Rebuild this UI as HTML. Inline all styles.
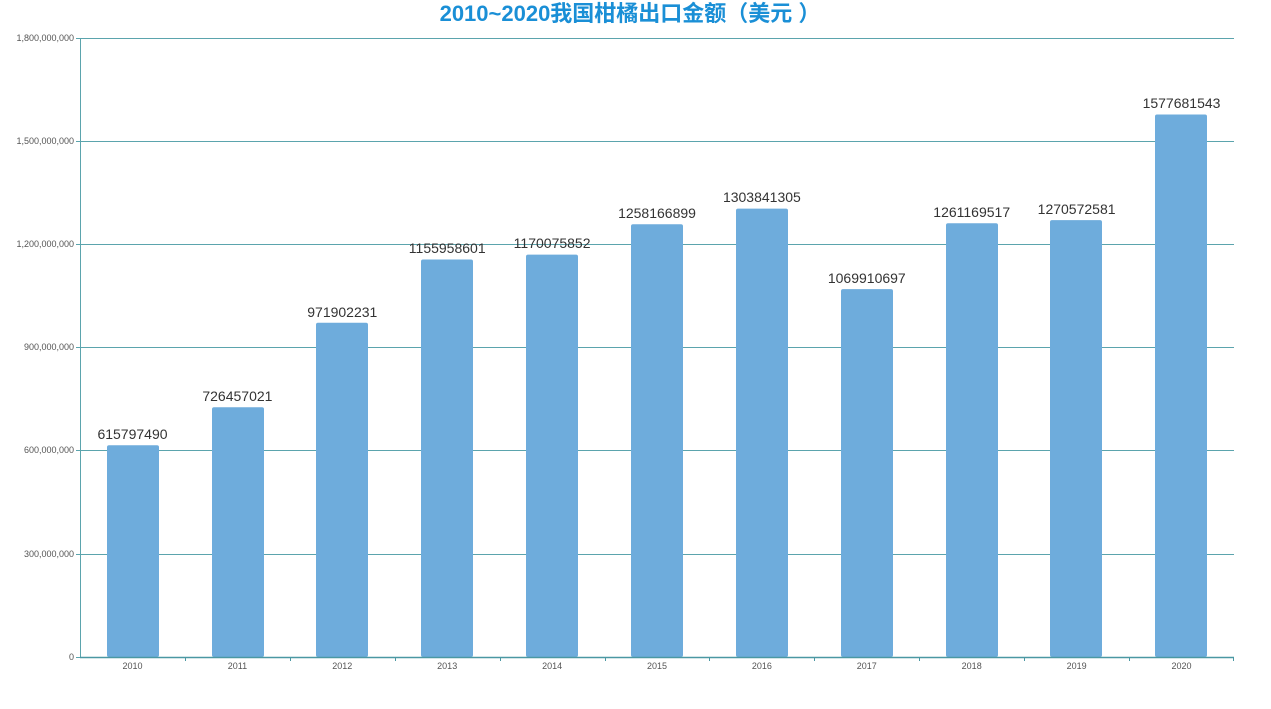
<!DOCTYPE html>
<html><head><meta charset="utf-8"><style>
body{margin:0;background:#fff;}
svg{display:block;font-family:"Liberation Sans","Noto Sans CJK SC",sans-serif;}
</style></head><body>
<svg width="1271" height="709" viewBox="0 0 1271 709">
<text x="630" y="21" text-anchor="middle" font-size="22" font-weight="bold" fill="#1a8fd6">2010~2020我国柑橘出口金额（美元 ）</text>
<g stroke="#5ba4ad" stroke-width="1">
<line x1="80" y1="38.5" x2="1234" y2="38.5"/>
<line x1="80" y1="141.5" x2="1234" y2="141.5"/>
<line x1="80" y1="244.5" x2="1234" y2="244.5"/>
<line x1="80" y1="347.5" x2="1234" y2="347.5"/>
<line x1="80" y1="450.5" x2="1234" y2="450.5"/>
<line x1="80" y1="554.5" x2="1234" y2="554.5"/>
<line x1="80.5" y1="38" x2="80.5" y2="657"/>
<line x1="76" y1="38.5" x2="80" y2="38.5"/><line x1="76" y1="141.5" x2="80" y2="141.5"/><line x1="76" y1="244.5" x2="80" y2="244.5"/><line x1="76" y1="347.5" x2="80" y2="347.5"/><line x1="76" y1="450.5" x2="80" y2="450.5"/><line x1="76" y1="554.5" x2="80" y2="554.5"/><line x1="76" y1="657.5" x2="80" y2="657.5"/>
</g>
<g font-size="9" fill="#555" text-anchor="end">
<text x="74" y="41">1,800,000,000</text><text x="74" y="144">1,500,000,000</text><text x="74" y="247">1,200,000,000</text><text x="74" y="350">900,000,000</text><text x="74" y="453">600,000,000</text><text x="74" y="557">300,000,000</text><text x="74" y="660">0</text>
</g>
<g fill="#6eacdc">
<rect x="107" y="445.2" width="52" height="211.8" rx="2"/>
<rect x="212" y="407.2" width="52" height="249.8" rx="2"/>
<rect x="316" y="322.8" width="52" height="334.2" rx="2"/>
<rect x="421" y="259.5" width="52" height="397.5" rx="2"/>
<rect x="526" y="254.6" width="52" height="402.4" rx="2"/>
<rect x="631" y="224.3" width="52" height="432.7" rx="2"/>
<rect x="736" y="208.6" width="52" height="448.4" rx="2"/>
<rect x="841" y="289.1" width="52" height="367.9" rx="2"/>
<rect x="946" y="223.3" width="52" height="433.7" rx="2"/>
<rect x="1050" y="220.1" width="52" height="436.9" rx="2"/>
<rect x="1155" y="114.5" width="52" height="542.5" rx="2"/>
</g>
<g font-size="14" fill="#333" text-anchor="middle">
<text x="132.5" y="439">615797490</text>
<text x="237.4" y="401">726457021</text>
<text x="342.3" y="317">971902231</text>
<text x="447.2" y="253">1155958601</text>
<text x="552.1" y="248">1170075852</text>
<text x="657" y="218">1258166899</text>
<text x="761.9" y="202">1303841305</text>
<text x="866.8" y="283">1069910697</text>
<text x="971.7" y="217">1261169517</text>
<text x="1076.6" y="214">1270572581</text>
<text x="1181.5" y="108">1577681543</text>
</g>
<g stroke="#4a98a3" stroke-width="1.5">
<line x1="80" y1="657.5" x2="1234" y2="657.5"/>
</g>
<g stroke="#4a98a3" stroke-width="1">
<line x1="185.5" y1="657" x2="185.5" y2="661"/><line x1="290.5" y1="657" x2="290.5" y2="661"/><line x1="395.5" y1="657" x2="395.5" y2="661"/><line x1="500.5" y1="657" x2="500.5" y2="661"/><line x1="605.5" y1="657" x2="605.5" y2="661"/><line x1="709.5" y1="657" x2="709.5" y2="661"/><line x1="814.5" y1="657" x2="814.5" y2="661"/><line x1="919.5" y1="657" x2="919.5" y2="661"/><line x1="1024.5" y1="657" x2="1024.5" y2="661"/><line x1="1129.5" y1="657" x2="1129.5" y2="661"/><line x1="1233.5" y1="657" x2="1233.5" y2="661"/>
</g>
<g font-size="9" fill="#555" text-anchor="middle">
<text x="132.5" y="669">2010</text><text x="237.4" y="669">2011</text><text x="342.3" y="669">2012</text><text x="447.2" y="669">2013</text><text x="552.1" y="669">2014</text><text x="657" y="669">2015</text><text x="761.9" y="669">2016</text><text x="866.8" y="669">2017</text><text x="971.7" y="669">2018</text><text x="1076.6" y="669">2019</text><text x="1181.5" y="669">2020</text>
</g>
</svg>
</body></html>
